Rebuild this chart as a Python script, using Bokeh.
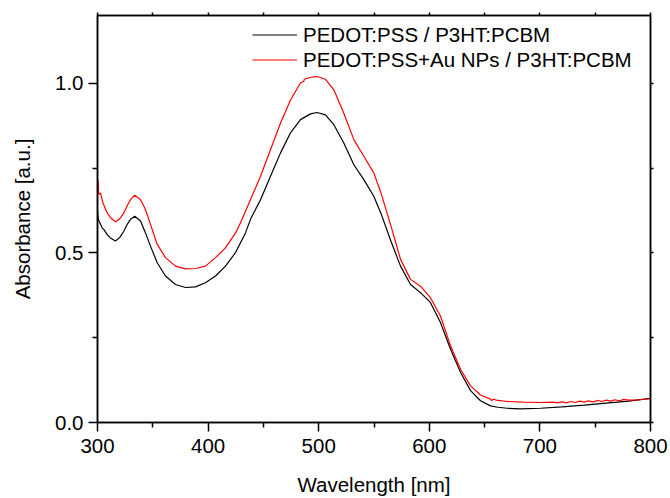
from bokeh.plotting import figure
from bokeh.models import FixedTicker, LinearAxis, Legend, LegendItem, PrintfTickFormatter, Range1d, CustomJSTickFormatter
from bokeh.embed import file_html
from bokeh.resources import INLINE

# Data
wl_black = [300, 300.6, 302, 304.2, 306, 308.8, 312, 316.3, 320, 323.8, 327, 329.8, 333.7, 338.9,
            343.4, 347.9, 354, 361.5, 370.5, 379.6, 388.6, 397.6, 406.7, 415.7, 424.8, 429.3,
            433.8, 438.3, 447.4, 456.4, 465.5, 474.5, 483.5, 492.6, 498.6, 506.1, 513.7, 522.7,
            531.8, 540.8, 549.8, 556.5, 564.9, 574, 583, 592, 601, 610.1, 619.2, 628.2, 637.3,
            646.3, 655.3, 662, 670.4, 682.5, 700.5, 720, 740, 760, 780, 800]
abs_black = [0.625, 0.600, 0.590, 0.574, 0.568, 0.554, 0.543, 0.535, 0.545, 0.564, 0.585, 0.599,
             0.608, 0.594, 0.559, 0.520, 0.471, 0.432, 0.407, 0.398, 0.400, 0.412, 0.432, 0.461,
             0.501, 0.530, 0.559, 0.599, 0.657, 0.726, 0.795, 0.854, 0.893, 0.910, 0.914, 0.907,
             0.878, 0.824, 0.760, 0.716, 0.667, 0.615, 0.538, 0.461, 0.407, 0.383, 0.354, 0.295,
             0.216, 0.148, 0.094, 0.064, 0.049, 0.045, 0.042, 0.040, 0.042, 0.046, 0.051, 0.057,
             0.063, 0.071]

wl_red = [300, 300.6, 301, 302.7, 304.8, 308.8, 312, 316.3, 320, 323.8, 327, 329.8, 333.7, 338.9,
          343.4, 347.9, 354, 361.5, 370.5, 379.6, 388.6, 397.6, 406.7, 415.7, 424.8, 429.3,
          433.8, 438.3, 447.4, 456.4, 465.5, 474.5, 483.5, 486.5, 487, 492.6, 498.6, 506.1,
          513.7, 522.7, 531.8, 540.8, 549.8, 556.5, 564.9, 574, 583, 592, 601, 610.1, 619.2,
          628.2, 637.3, 646.3, 655.3, 656.5, 657.5, 662, 670.4, 685, 700.5, 712, 716, 720, 724,
          728, 732, 736, 740, 744, 748, 752, 756, 760, 764, 768, 772, 776, 780, 790, 800]
abs_red = [0.700, 0.716, 0.672, 0.677, 0.648, 0.618, 0.603, 0.592, 0.600, 0.618, 0.640, 0.657,
           0.670, 0.657, 0.628, 0.584, 0.525, 0.486, 0.461, 0.453, 0.454, 0.461, 0.486, 0.515,
           0.559, 0.589, 0.623, 0.657, 0.726, 0.804, 0.883, 0.951, 1.001, 1.006, 1.012, 1.018,
           1.020, 1.012, 0.981, 0.912, 0.834, 0.785, 0.736, 0.675, 0.584, 0.481, 0.422, 0.402,
           0.368, 0.314, 0.226, 0.157, 0.108, 0.081, 0.069, 0.064, 0.069, 0.065, 0.062, 0.060,
           0.059, 0.060, 0.058, 0.061, 0.058, 0.062, 0.059, 0.063, 0.060, 0.064, 0.061, 0.065,
           0.062, 0.066, 0.063, 0.067, 0.064, 0.068, 0.066, 0.067, 0.070, 0.071]

x_ticks = [300, 400, 500, 600, 700, 800]
x_minor = [350, 450, 550, 650, 750]
y_ticks = [0.0, 0.5, 1.0]
y_minor = [0.25, 0.75]

FONT = "Liberation Sans"

p = figure(width=670, height=498, output_backend="svg", toolbar_location=None,
           x_range=Range1d(300, 800), y_range=Range1d(0, 1.2),
           min_border_left=97, min_border_right=20, min_border_top=15, min_border_bottom=75)
p.grid.visible = False
p.outline_line_color = "black"
p.outline_line_width = 1.5
p.background_fill_color = "white"
p.border_fill_color = "white"

r1 = p.line(wl_black, abs_black, line_color="black", line_width=1.2)
r2 = p.line(wl_red, abs_red, line_color="#ff0000", line_width=1.2)

for ax, ticks, minors in ((p.xaxis[0], x_ticks, x_minor), (p.yaxis[0], y_ticks, y_minor)):
    ax.ticker = FixedTicker(ticks=ticks, minor_ticks=minors)
    ax.axis_line_width = 1.5
    ax.major_tick_line_width = 1.5
    ax.minor_tick_line_width = 1.5
    ax.major_tick_out = 9
    ax.major_tick_in = 0
    ax.minor_tick_out = 5
    ax.minor_tick_in = 0
    ax.major_label_text_font = FONT
    ax.major_label_text_font_size = "20.5px"
    ax.major_label_text_color = "black"
    ax.axis_label_text_font = FONT
    ax.axis_label_text_font_size = "20.5px"
    ax.axis_label_text_font_style = "normal"
    ax.axis_label_text_color = "black"

p.yaxis[0].formatter = PrintfTickFormatter(format="%.1f")
p.xaxis[0].axis_label = "Wavelength [nm]"
p.yaxis[0].axis_label = "Absorbance [a.u.]"
p.xaxis[0].major_label_standoff = 7
p.xaxis[0].axis_label_standoff = 17
p.yaxis[0].major_label_standoff = 5
p.yaxis[0].axis_label_standoff = 18

# top and right frame axes with small ticks, no labels
for loc, ticks, minors in (("above", x_ticks, x_minor), ("right", y_ticks, y_minor)):
    a = LinearAxis(ticker=FixedTicker(ticks=ticks, minor_ticks=minors),
                   formatter=CustomJSTickFormatter(code="return ''"),
                   major_label_standoff=0,
                   axis_line_width=1.5, major_tick_line_width=1.5, minor_tick_line_width=1.5,
                   major_tick_out=3, major_tick_in=0, minor_tick_out=3, minor_tick_in=0)
    p.add_layout(a, loc)

legend = Legend(items=[LegendItem(label="PEDOT:PSS / P3HT:PCBM", renderers=[r1]),
                       LegendItem(label="PEDOT:PSS+Au NPs / P3HT:PCBM", renderers=[r2])],
                location=(155, 350), label_text_font=FONT, label_text_font_size="20.5px",
                label_text_color="black", glyph_width=45, glyph_height=25, label_height=25,
                label_standoff=6, spacing=0, padding=0, margin=0,
                border_line_color=None, background_fill_alpha=0)
p.add_layout(legend, "center")

open("out.html", "w").write(file_html(p, INLINE))
